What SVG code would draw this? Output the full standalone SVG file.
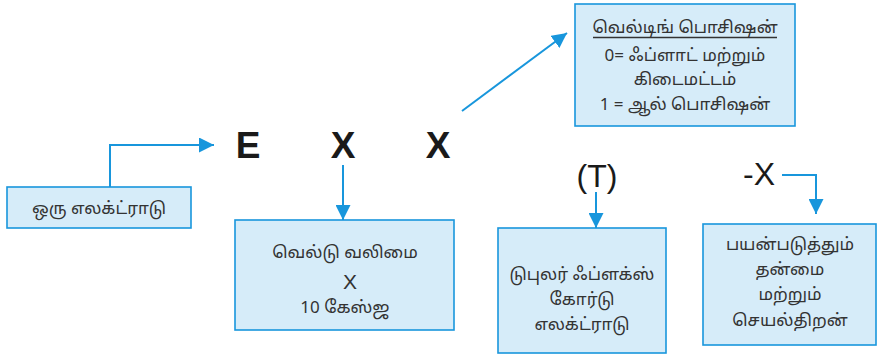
<svg xmlns="http://www.w3.org/2000/svg" width="880" height="359" viewBox="0 0 880 359">
  <style>
    .box { fill: #d6ecf9; stroke: #1896dc; stroke-width: 1.6; }
    .t { font-family: "Noto Sans Tamil", "Noto Sans", "Liberation Sans", sans-serif; font-size: 17px; fill: #333333; text-anchor: middle; }
    .code { font-family: "Liberation Sans", Arial, sans-serif; font-weight: bold; font-size: 37px; fill: #1a1a1a; text-anchor: middle; }
    .lbl { font-family: "Liberation Sans", Arial, sans-serif; font-size: 32px; fill: #1a1a1a; text-anchor: middle; }
    .con { fill: none; stroke: #1896dc; stroke-width: 2; }
  </style>
  <defs>
    <marker id="head" viewBox="0 0 10 10" refX="10" refY="5" markerWidth="15" markerHeight="15" markerUnits="userSpaceOnUse" orient="auto">
      <path d="M0,0 L10,5 L0,10 Z" fill="#1896dc"/>
    </marker>
  </defs>

  <!-- electrode code letters -->
  <g id="code">
    <text class="code" x="248" y="158">E</text>
    <text class="code" x="343" y="158">X</text>
    <text class="code" x="438" y="158">X</text>
  </g>

  <g id="position">
    <rect class="box" x="575" y="4" width="220" height="122"/>
    <text class="t" x="685" y="33">வெல்டிங் பொசிஷன்</text>
    <line x1="593" y1="37.5" x2="777" y2="37.5" stroke="#333333" stroke-width="1.3"/>
    <text class="t" x="685" y="61">0= ஃப்ளாட் மற்றும்</text>
    <text class="t" x="685" y="85">கிடைமட்டம்</text>
    <text class="t" x="685" y="110">1 = ஆல் பொசிஷன்</text>
  </g>

  <g id="electrode">
    <rect class="box" x="7" y="187" width="184" height="41"/>
    <text class="t" x="99" y="214">ஒரு எலக்ட்ராடு</text>
  </g>

  <g id="strength">
    <rect class="box" x="235" y="220" width="219" height="110"/>
    <text class="t" x="345" y="258">வெல்டு வலிமை</text>
    <text class="t" x="350" y="289" style="font-family:'Liberation Sans',Arial,sans-serif;font-size:21px">X</text>
    <text class="t" x="345" y="313">10 கேஸ்ஜ</text>
  </g>

  <g id="tubular">
    <text class="lbl" x="597" y="187">(T)</text>
    <rect class="box" x="498" y="228" width="168" height="125"/>
    <text class="t" x="582" y="280">டுபுலர் ஃப்ளக்ஸ்</text>
    <text class="t" x="582" y="305">கோர்டு</text>
    <text class="t" x="582" y="330">எலக்ட்ராடு</text>
  </g>

  <g id="usability">
    <text class="lbl" x="759" y="185">-X</text>
    <rect class="box" x="703" y="224" width="173" height="121"/>
    <text class="t" x="790" y="250">பயன்படுத்தும்</text>
    <text class="t" x="790" y="275">தன்மை</text>
    <text class="t" x="790" y="300">மற்றும்</text>
    <text class="t" x="790" y="326">செயல்திறன்</text>
  </g>

  <g id="connectors">
    <path class="con" d="M110,187 V145 H214" marker-end="url(#head)"/>
    <path class="con" d="M343,165 V220" marker-end="url(#head)"/>
    <path class="con" d="M462,111 L567,33" marker-end="url(#head)"/>
    <path class="con" d="M596,192 V228" marker-end="url(#head)"/>
    <path class="con" d="M782,175 H816 V214" marker-end="url(#head)"/>
  </g>
</svg>
